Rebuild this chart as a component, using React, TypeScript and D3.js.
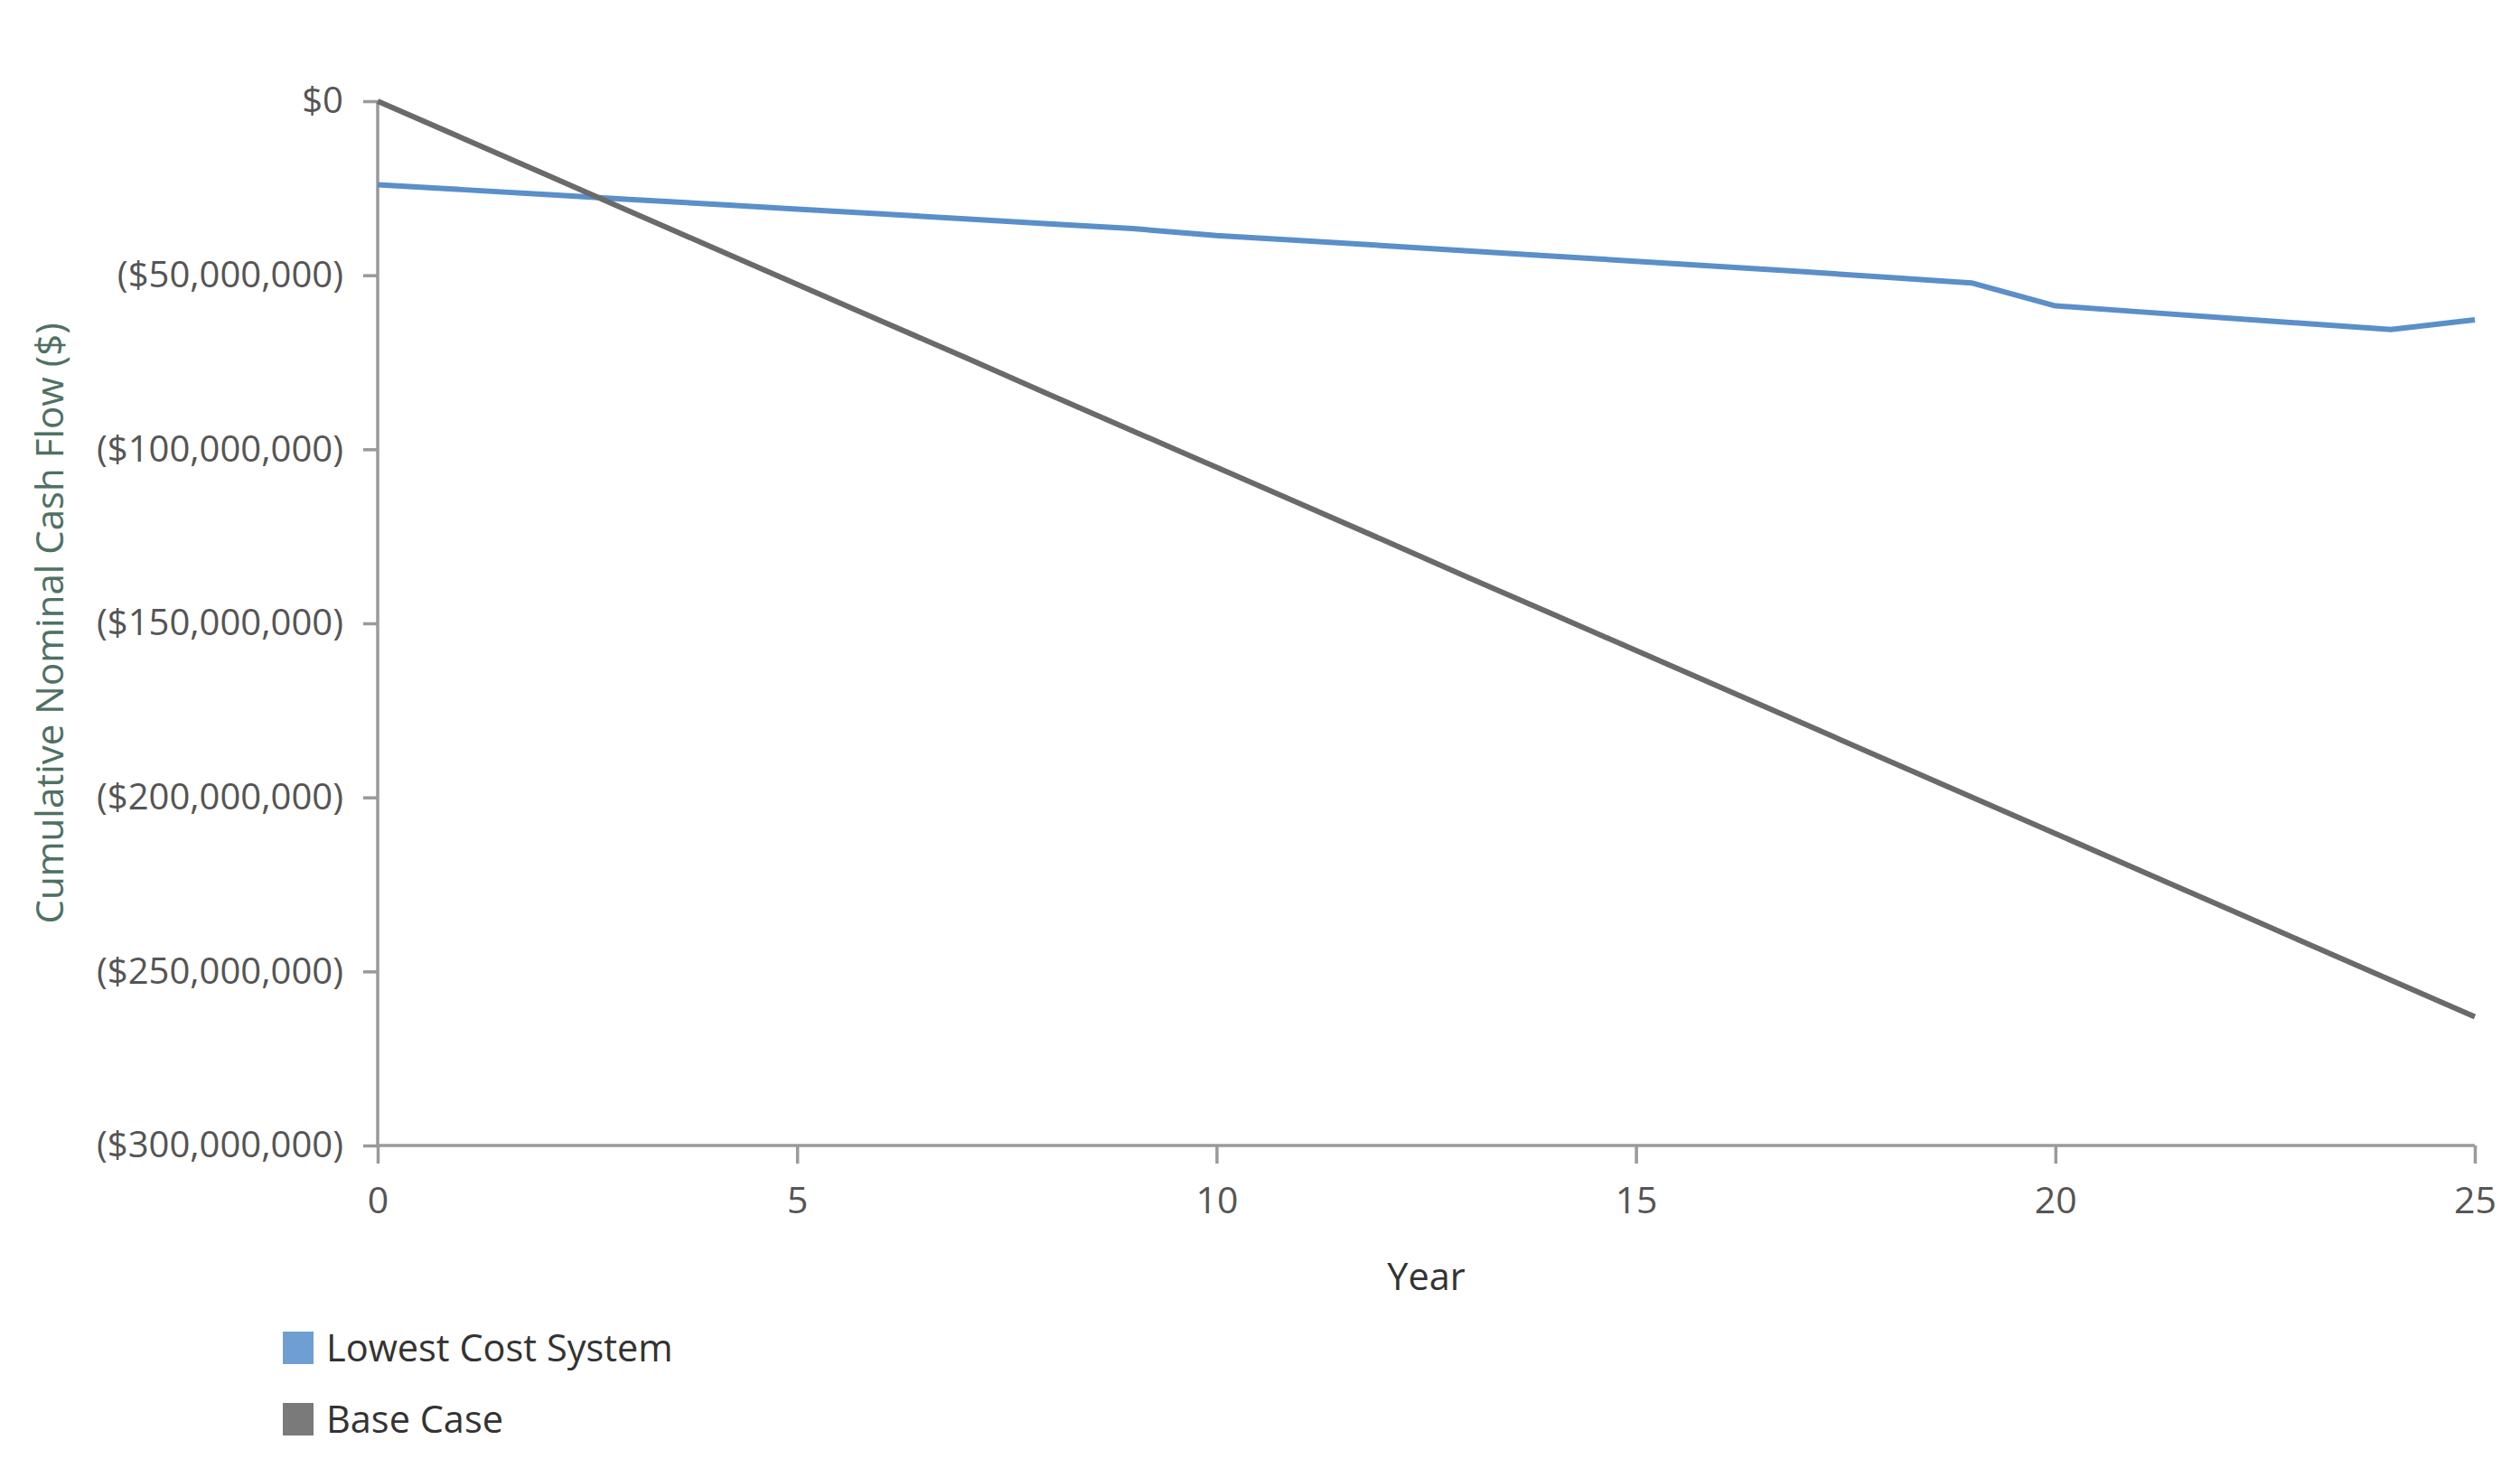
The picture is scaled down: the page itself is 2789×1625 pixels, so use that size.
import { useEffect, useRef } from "react"
import * as d3 from "d3"

const years = [0, 1, 2, 3, 4, 5, 6, 7, 8, 9, 10, 11, 12, 13, 14, 15, 16, 17, 18, 19, 20, 21, 22, 23, 24, 25]

// cumulative nominal cash flow, $ millions
const lowestCostSystem = [
  -24.0, -25.4, -26.8, -28.2, -29.6, -31.0, -32.4, -33.8, -35.2, -36.6, -38.6, -40.0, -41.5,
  -43.0, -44.5, -46.0, -47.5, -49.0, -50.6, -52.2, -58.8, -60.5, -62.2, -63.9, -65.6, -62.8,
]
const baseCase = [
  0, -10.5, -21.0, -31.6, -42.1, -52.6, -63.1, -73.6, -84.2, -94.7, -105.2, -115.7, -126.2,
  -136.8, -147.3, -157.8, -168.3, -178.8, -189.4, -199.9, -210.4, -220.9, -231.4, -242.0, -252.5, -263.0,
]

const yTicks = [0, -50, -100, -150, -200, -250, -300]
const xTicks = [0, 5, 10, 15, 20, 25]

const seriesNames = ["Lowest Cost System", "Base Case"]
const seriesColors = ["#5a8fc9", "#6a6a6a"]
const legendColors = ["#6f9fd2", "#7a7a7a"]

const W = 2789
const H = 1625
const FONT = "'Open Sans', 'Noto Sans', sans-serif"

const fmtMoney = (v: number) => {
  if (v === 0) return "$0"
  const s = d3.format(",")(Math.abs(v) * 1e6)
  return v < 0 ? `($${s})` : `$${s}`
}

const App = () => {
  const svgRef = useRef<SVGSVGElement>(null)

  useEffect(() => {
    const svg = d3.select(svgRef.current)
    svg.selectAll("*").remove()

    const margin = { top: 112, right: 50, bottom: 357, left: 418 }
    const width = W - margin.left - margin.right
    const chartHeight = H - margin.top - margin.bottom

    const x = d3.scaleLinear().domain([0, 25]).range([0, width])
    const y = d3.scaleLinear().domain([-300, 0]).range([chartHeight, 0])

    const g = svg.append("g").attr("transform", `translate(${margin.left},${margin.top})`)

    // y axis
    const yAxis = g
      .append("g")
      .call(d3.axisLeft(y).tickValues(yTicks).tickFormat((d) => fmtMoney(+d)).tickSize(16).tickPadding(22))
    yAxis.select(".domain").attr("stroke", "#9a9a9a").attr("stroke-width", 3.5).attr("d", `M0,0V${chartHeight}`)
    yAxis.selectAll(".tick line").attr("stroke", "#9a9a9a").attr("stroke-width", 3.5)
    yAxis
      .selectAll("text")
      .style("font-family", FONT)
      .style("font-size", "40px")
      .style("fill", "#555555")

    // x axis
    const xAxis = g
      .append("g")
      .attr("transform", `translate(0,${chartHeight})`)
      .call(d3.axisBottom(x).tickValues(xTicks).tickSize(20).tickPadding(26))
    xAxis.select(".domain").attr("stroke", "#9a9a9a").attr("stroke-width", 3.5).attr("d", `M0,0H${width}`)
    xAxis.selectAll(".tick line").attr("stroke", "#9a9a9a").attr("stroke-width", 3.5)
    xAxis
      .selectAll("text")
      .style("font-family", FONT)
      .style("font-size", "41px")
      .style("fill", "#555555")

    const allSeries = [lowestCostSystem, baseCase]
    allSeries.forEach((vals, i) => {
      const line = d3
        .line<number>()
        .x((_, j) => x(years[j]))
        .y((d) => y(d))
      g.append("path")
        .datum(vals)
        .attr("fill", "none")
        .attr("stroke", seriesColors[i])
        .attr("stroke-width", 6)
        .attr("stroke-linejoin", "round")
        .attr("d", line)
    })

    // axis titles
    svg
      .append("text")
      .attr("transform", `translate(70,${margin.top + chartHeight / 2}) rotate(-90)`)
      .attr("text-anchor", "middle")
      .style("font-family", FONT)
      .style("font-size", "42px")
      .style("fill", "#4e7164")
      .text("Cumulative Nominal Cash Flow ($)")

    svg
      .append("text")
      .attr("x", margin.left + width / 2)
      .attr("y", 1428)
      .attr("text-anchor", "middle")
      .style("font-family", FONT)
      .style("font-size", "41.5px")
      .style("fill", "#333333")
      .text("Year")

    // legend
    const legend = svg.append("g").attr("transform", "translate(313,1474)")
    seriesNames.forEach((name, i) => {
      const row = legend.append("g").attr("transform", `translate(0,${i * 79})`)
      row.append("rect").attr("width", 34).attr("height", 36).attr("fill", legendColors[i])
      row
        .append("text")
        .attr("x", 48)
        .attr("y", 33)
        .style("font-family", FONT)
        .style("font-size", "41.5px")
        .style("fill", "#333333")
        .text(name)
    })
  }, [])

  return (
    <svg
      ref={svgRef}
      width={W}
      height={H}
      style={{ position: "absolute", left: 0, top: 0, background: "#ffffff" }}
    ></svg>
  )
}

export default App
